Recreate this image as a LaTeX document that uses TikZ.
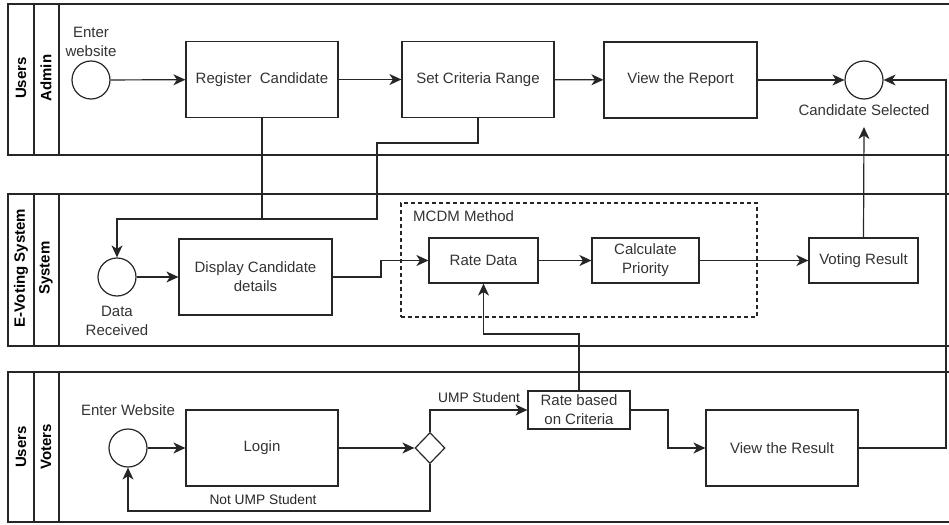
\documentclass[tikz,border=0pt]{standalone}
\usepackage{fontspec}
\setmainfont{Liberation Sans}
\usetikzlibrary{arrows.meta,shapes.geometric}
\begin{document}
\begin{tikzpicture}[x=1pt,y=-1pt,
  pool/.style={line width=1.3pt, draw=black!85},
  box/.style={draw=black!85, line width=1.2pt, rectangle, inner sep=2pt, align=center, font=\fontsize{15}{19}\selectfont, text=black!80},
  ev/.style={draw=black!85, circle, line width=1.2pt, minimum size=38pt, inner sep=0pt},
  lbl/.style={font=\fontsize{15}{19.5}\selectfont, align=center, text=black!80, inner sep=0pt},
  elbl/.style={font=\fontsize{13.75}{16}\selectfont, text=black!85, inner sep=0pt},
  hdr/.style={font=\bfseries\fontsize{15}{18}\selectfont, rotate=90, inner sep=0pt},
  arr/.style={line width=1.2pt, draw=black!85, -{Stealth[length=12pt,width=11pt,inset=3.5pt]}},
  con/.style={line width=1.2pt, draw=black!85},
]
\useasboundingbox (0,0) rectangle (949,524);

% pools
\draw[pool] (949,4) -- (8,4) -- (8,155) -- (949,155);
\draw[pool] (34,4) -- (34,155);
\draw[pool] (59,4) -- (59,155);
\draw[pool] (949,194) -- (8,194) -- (8,346) -- (949,346);
\draw[pool] (34,194) -- (34,346);
\draw[pool] (59,194) -- (59,346);
\draw[pool] (949,372) -- (8,372) -- (8,522) -- (949,522);
\draw[pool] (34,372) -- (34,522);
\draw[pool] (59,372) -- (59,522);

\node[hdr] (h1) at (21,78) {Users};
\node[hdr] (h2) at (46,78) {Admin};
\node[hdr] (h3) at (21,268) {E-Voting System};
\node[hdr] (h4) at (46,268) {System};
\node[hdr] (h5) at (21,447) {Users};
\node[hdr] (h6) at (46,447) {Voters};

% MCDM container
\node[draw=black!85, line width=1.2pt, dash pattern=on 4pt off 3pt, minimum width=356pt, minimum height=114pt, inner sep=0pt] (mc) at (579,260) {};
\node[lbl, anchor=west] (l5) at (413,216) {MCDM Method};

% admin lane
\node[ev] (s1) at (91,80) {};
\node[lbl] (l1) at (91,42) {Enter\\website};
\node[box, minimum width=152pt, minimum height=76pt] (reg) at (262,79.5) {Register\ \ Candidate};
\node[box, minimum width=152pt, minimum height=76pt] (crit) at (478,79.5) {Set Criteria Range};
\node[box, minimum width=153pt, minimum height=76pt] (rep) at (680.5,80) {View the Report};
\node[ev] (cs) at (864,80) {};
\node[lbl] (l2) at (864,110) {Candidate Selected};
\coordinate (csb) at (864,127);

% system lane
\node[ev] (dr) at (117,277) {};
\node[lbl] (l3) at (117,321) {Data\\Received};
\node[box, minimum width=153pt, minimum height=76pt] (disp) at (255.5,277) {Display Candidate\\details};
\node[box, minimum width=109pt, minimum height=45pt] (rd) at (483.5,260.5) {Rate Data};
\node[box, minimum width=107pt, minimum height=45pt] (cp) at (645.5,260.5) {Calculate\\Priority};
\node[box, minimum width=109pt, minimum height=45pt] (vr) at (863.5,260.5) {Voting Result};

% voters lane
\node[ev] (sv) at (128,448) {};
\node[lbl] (l4) at (128,410) {Enter Website};
\node[box, minimum width=152pt, minimum height=76pt] (login) at (262,448) {Login};
\node[draw=black!85, line width=1.2pt, diamond, minimum width=30pt, minimum height=31pt, inner sep=0pt] (dia) at (430,448) {};
\node[box, minimum width=102pt, minimum height=38pt, inner sep=1pt] (rbc) at (579,410) {Rate based\\on Criteria};
\node[box, minimum width=152pt, minimum height=76pt] (vres) at (782,448) {View the Result};
\node[elbl] (ump) at (479,398) {UMP Student};
\node[elbl] (nump) at (263,500) {Not UMP Student};

% connectors
\draw[arr] (s1) -- (reg);
\draw[arr] (reg) -- (crit);
\draw[arr] (crit) -- (rep);
\draw[arr] (rep) -- (cs);
\draw[con] (reg.south) -- (262,219);
\draw[arr] (crit.south) -- (478,143) -- (377,143) -- (377,219) -| (dr.north);
\draw[arr] (dr) -- (disp);
\draw[arr] (disp.east) -- (381,277) |- (rd.west);
\draw[arr] (rd) -- (cp);
\draw[arr] (cp) -- (vr);
\draw[arr] (vr.north) -- (csb);
\draw[arr] (sv) -- (login);
\draw[arr] (login) -- (dia);
\draw[arr] (dia.north) |- (rbc.west);
\draw[arr] (rbc.east) -- (668,410) |- (vres.west);
\draw[arr] (rbc.north) -- (579,334) -| (rd.south);
\draw[arr] (vres.east) -- (946,448) |- (cs.east);
\draw[arr] (dia.south) -- (430,511) -| (sv.south);
\end{tikzpicture}
\end{document}
